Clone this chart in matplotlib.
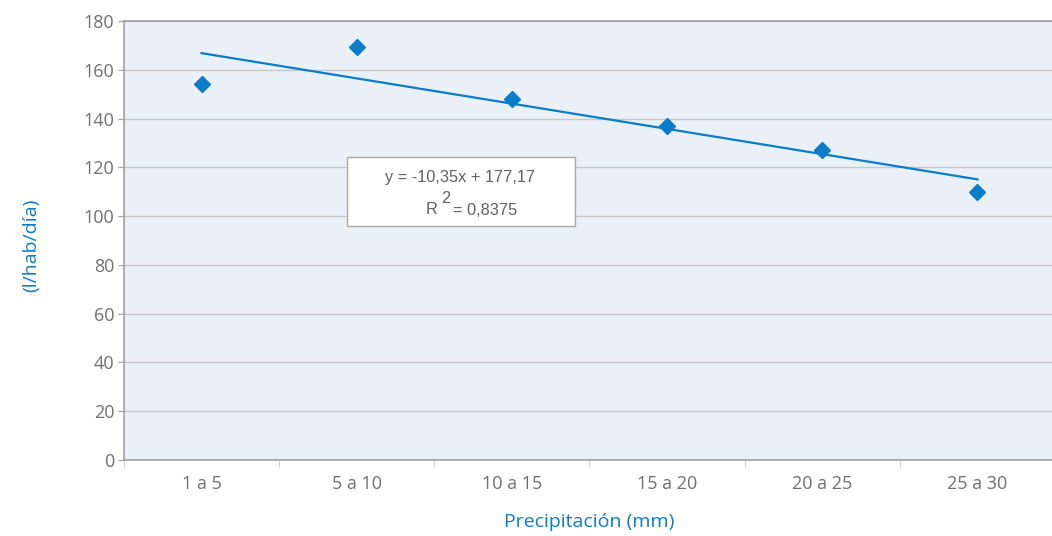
import numpy as np
import matplotlib.pyplot as plt
from matplotlib.patches import Rectangle

# datos
categorias = ['1 a 5', '5 a 10', '10 a 15', '15 a 20', '20 a 25', '25 a 30']
consumo = [154, 169.5, 148, 137, 127, 110]
pendiente = -10.35
ordenada = 177.17
y_ticks = [0, 20, 40, 60, 80, 100, 120, 140, 160, 180]

azul = '#0a7cc8'
gris = '#707070'
plt.rcParams['font.family'] = ['Open Sans', 'DejaVu Sans']

fig = plt.figure(figsize=(10.52, 5.36), dpi=100)
ax = fig.add_axes([124/1052, 1-460/536, 931/1052, 439/536])
ax.set_facecolor('#e9f0f8')

x = np.arange(1, len(categorias) + 1)
tendencia = pendiente * x + ordenada
ax.plot(x, tendencia, color=azul, lw=1.6, zorder=3)
ax.plot(x, consumo, 'D', color=azul, ms=8.5, zorder=4)

ax.set_xlim(0.5, len(categorias) + 0.5)
ax.set_ylim(0, 180)
ax.set_yticks(y_ticks)
ax.yaxis.grid(True, color='#c8c8c8', lw=1)
ax.set_axisbelow(True)

ax.set_xticks(x)
ax.set_xticklabels(categorias)
ax.set_xticks(np.arange(0.5, len(categorias) + 1), minor=True)
ax.tick_params(axis='x', which='major', length=0, pad=11, labelsize=13, labelcolor=gris)
ax.tick_params(axis='x', which='minor', length=5, color='#c4c4c4')
ax.tick_params(axis='y', length=4, color='#a0a0a0', labelsize=13, labelcolor=gris, pad=3)

for s in ['left', 'bottom', 'top']:
    ax.spines[s].set_color('#a0a0a0')
    ax.spines[s].set_linewidth(1.2)
ax.spines['right'].set_visible(False)

ax.set_xlabel('Precipitación (mm)', color=azul, fontsize=14, labelpad=14)
ax.set_ylabel('(l/hab/día)', color=azul, fontsize=14)
ax.yaxis.set_label_coords(-0.09, 0.49)

# caja de la ecuacion
def px2data(px, py):
    return ax.transData.inverted().transform(
        fig.transFigure.transform((px/1052, 1-py/536)))

x0, y0 = px2data(347, 226)
x1, y1 = px2data(575, 157)
ax.add_patch(Rectangle((x0, y0), x1-x0, y1-y0, facecolor='white',
                       edgecolor='#a8a8a8', lw=1, zorder=5))
txt = dict(fontsize=11.8, color='#606060', family='Liberation Sans', zorder=6)
tx, ty = px2data(460, 178)
ax.text(tx, ty, 'y = -10,35x + 177,17', ha='center', va='center', **txt)
tx, ty = px2data(432, 209)
ax.text(tx, ty, 'R', ha='center', va='center', **txt)
tx, ty = px2data(446, 199)
ax.text(tx, ty, '2', ha='center', va='center', **txt)
tx, ty = px2data(453, 210)
ax.text(tx, ty, '= 0,8375', ha='left', va='center', **txt)

fig.savefig('out.png', dpi=100)
